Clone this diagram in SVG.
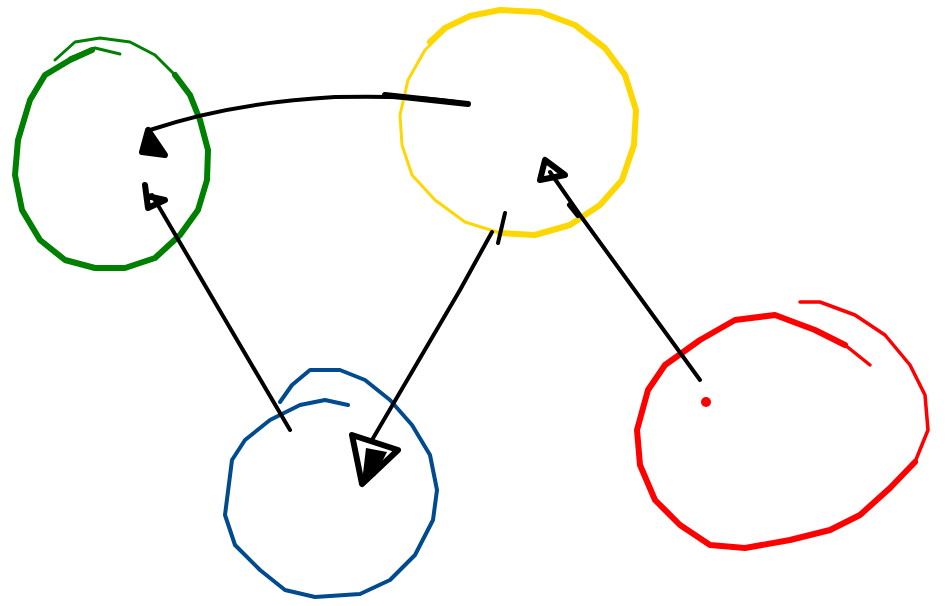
<svg xmlns="http://www.w3.org/2000/svg" width="948" height="606" viewBox="0 0 948 606">
<style>
.n{fill:none;stroke-linecap:round;stroke-linejoin:round}
.c{fill:none;stroke:#000;stroke-linecap:round;stroke-linejoin:round;stroke-width:4}
.h{fill:none;stroke:#000;stroke-linecap:round;stroke-linejoin:round;stroke-width:6}
.hf{fill:#000;stroke:#000;stroke-linecap:round;stroke-linejoin:round;stroke-width:6}
</style>
<rect width="948" height="606" fill="#fff"/>
<g id="node-green">
<path class="n" stroke="#008000" stroke-width="6" d="M92,50 L70,60 L45,75 L30,100 L18,140 L15,175 L22,210 L40,240 L65,260 L95,268 L125,268 L155,258 L180,235 L198,210 L207,180 L208,150 L200,120 L190,95 L175,75"/>
<path class="n" stroke="#008000" stroke-width="3" d="M120,54 L95,48 L70,58 M175,75 L155,55 L130,42 L100,38 L75,42 L55,60"/>
</g>
<g id="node-yellow">
<path class="n" stroke="#FFD700" stroke-width="6" d="M430,42 L445,28 L470,16 L500,10 L540,12 L575,25 L605,48 L625,75 L636,110 L634,145 L622,180 L600,205 L570,225 L535,235 L500,233"/>
<path class="n" stroke="#FFD700" stroke-width="3" d="M500,233 L465,222 L435,200 L412,175 L402,145 L400,115 L408,80 L425,50 L445,30"/>
</g>
<g id="node-blue">
<path class="n" stroke="#004A8F" stroke-width="4" d="M348,405 L325,400 L300,405 L270,420 L245,440 L232,460 L225,515 L235,545 L260,570 L285,590 L315,597 L360,594 L390,580 L415,555 L433,520 L437,490 L430,455 L412,425 L390,400 L365,380 L340,370 L310,370 L292,385 L280,402"/>
</g>
<g id="node-red">
<path class="n" stroke="#FF0000" stroke-width="6" d="M845,345 L815,330 L775,315 L735,320 L700,340 L665,365 L648,390 L637,430 L640,465 L655,500 L680,525 L710,545 L745,548 L790,540 L830,530 L860,515 L890,488 L915,462"/>
<path class="n" stroke="#FF0000" stroke-width="3.5" d="M915,462 L928,430 L925,395 L910,365 L885,335 L855,315 L820,302 L800,302 M845,345 L870,365"/>
<circle cx="706" cy="402" r="5" fill="#FF0000"/>
</g>
<g id="connectors">
<path class="c" d="M468,104 C430,97 390,96 335,97 C280,100 215,108 150,130"/>
<path class="h" stroke-width="7" d="M385,95 L468,104"/>
<path class="hf" d="M148,130 L142,152 L165,155 Z"/>
<path class="c" d="M290,430 L240,345 L152,195"/>
<path class="h" d="M145,185 L148,208 L165,200 L147,196"/>
<path class="c" d="M505,213 L498,243 M492,232 L460,290 L372,440"/>
<path class="h" d="M352,435 L398,450 L362,484 Z"/>
<path fill="#000" d="M366,448 L387,452 L375,476 L362,482 Z"/>
<path class="c" d="M700,380 L580,215 L550,172"/>
<path class="h" d="M545,160 L540,180 L565,175 Z"/>
<path class="h" stroke-width="3" d="M570,205 L578,215"/>
</g>
</svg>
